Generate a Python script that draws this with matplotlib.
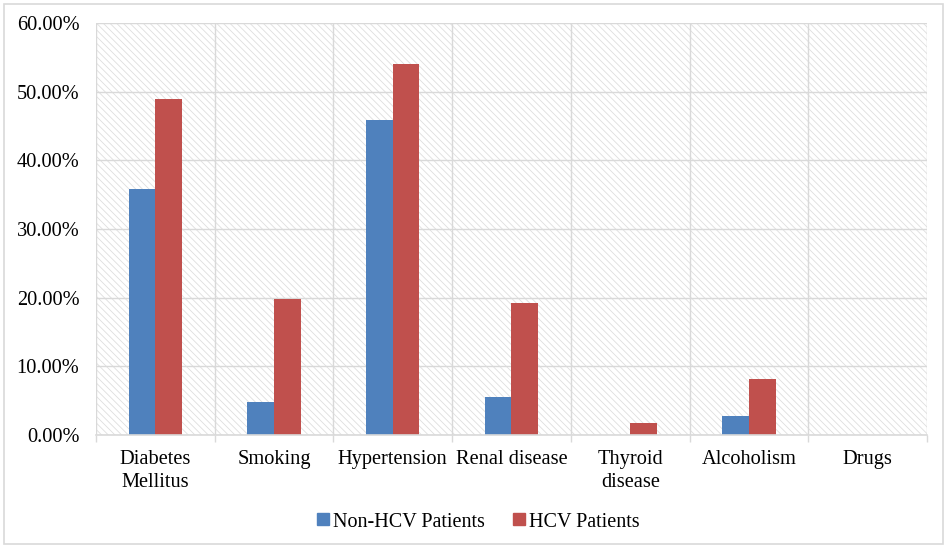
import numpy as np
import matplotlib.pyplot as plt
from matplotlib.patches import Rectangle
from matplotlib.lines import Line2D
from matplotlib.ticker import FuncFormatter

categories = ['Diabetes\nMellitus', 'Smoking', 'Hypertension', 'Renal disease',
              'Thyroid\ndisease', 'Alcoholism', 'Drugs']
non_hcv = [35.8, 4.8, 45.9, 5.5, 0.0, 2.8, 0.0]
hcv = [48.9, 19.8, 54.0, 19.2, 1.8, 8.2, 0.0]
series_names = ['Non-HCV Patients', 'HCV Patients']
colors = ['#4F81BD', '#C0504D']

plt.rcParams['font.family'] = ['Liberation Serif', 'DejaVu Serif']
plt.rcParams['hatch.linewidth'] = 0.6

fig = plt.figure(figsize=(9.45, 5.46), dpi=100)
ax = fig.add_axes([96/945, 1 - 435/546, (927 - 96)/945, (435 - 23)/546])

# outer frame of the chart
fig.patches.append(Rectangle((4/945, 2/546), 939/945, 540/546, transform=fig.transFigure,
                             fill=False, edgecolor='#d9d9d9', linewidth=1.2))

# hatched plot area
ax.add_patch(Rectangle((0, 0), 1, 1, transform=ax.transAxes, facecolor='white',
                       edgecolor='#dedede', hatch='\\\\\\\\\\', linewidth=0, zorder=0))

x = np.arange(len(categories))
w = 0.225
ax.bar(x - w/2, non_hcv, w, color=colors[0], zorder=3)
ax.bar(x + w/2, hcv, w, color=colors[1], zorder=3)

ax.set_xlim(-0.5, len(categories) - 0.5)
ax.set_ylim(0, 60)
ax.set_yticks(np.arange(0, 61, 10))
ax.yaxis.set_major_formatter(FuncFormatter(lambda v, p: f'{v:.2f}%'))

ax.set_xticks(np.arange(-0.5, len(categories), 1.0))
ax.set_xticklabels([])
ax.set_xticks(x, minor=True)
ax.set_xticklabels(categories, minor=True, linespacing=1.3)

ax.grid(True, which='major', color='#d9d9d9', linewidth=1.0, zorder=1)
ax.set_axisbelow(True)
for s in ['top', 'right', 'left']:
    ax.spines[s].set_visible(False)
ax.spines['bottom'].set_color('#d9d9d9')
ax.spines['bottom'].set_linewidth(1.2)
ax.spines['bottom'].set_zorder(4)

ax.tick_params(axis='y', length=0, labelsize=14.7, pad=12)
ax.tick_params(axis='x', which='major', length=5, color='#d9d9d9', width=1.0)
ax.tick_params(axis='x', which='minor', length=0, labelsize=14.7, pad=11)

handles = [Line2D([], [], marker='s', linestyle='none', markersize=8, color=c) for c in colors]
fig.legend(handles, series_names, loc='center', bbox_to_anchor=(0.505, 0.044), ncol=2,
           frameon=False, fontsize=14.5, handletextpad=0.1, columnspacing=1.3,
           handlelength=0.8)

fig.savefig('out.png', dpi=100)
